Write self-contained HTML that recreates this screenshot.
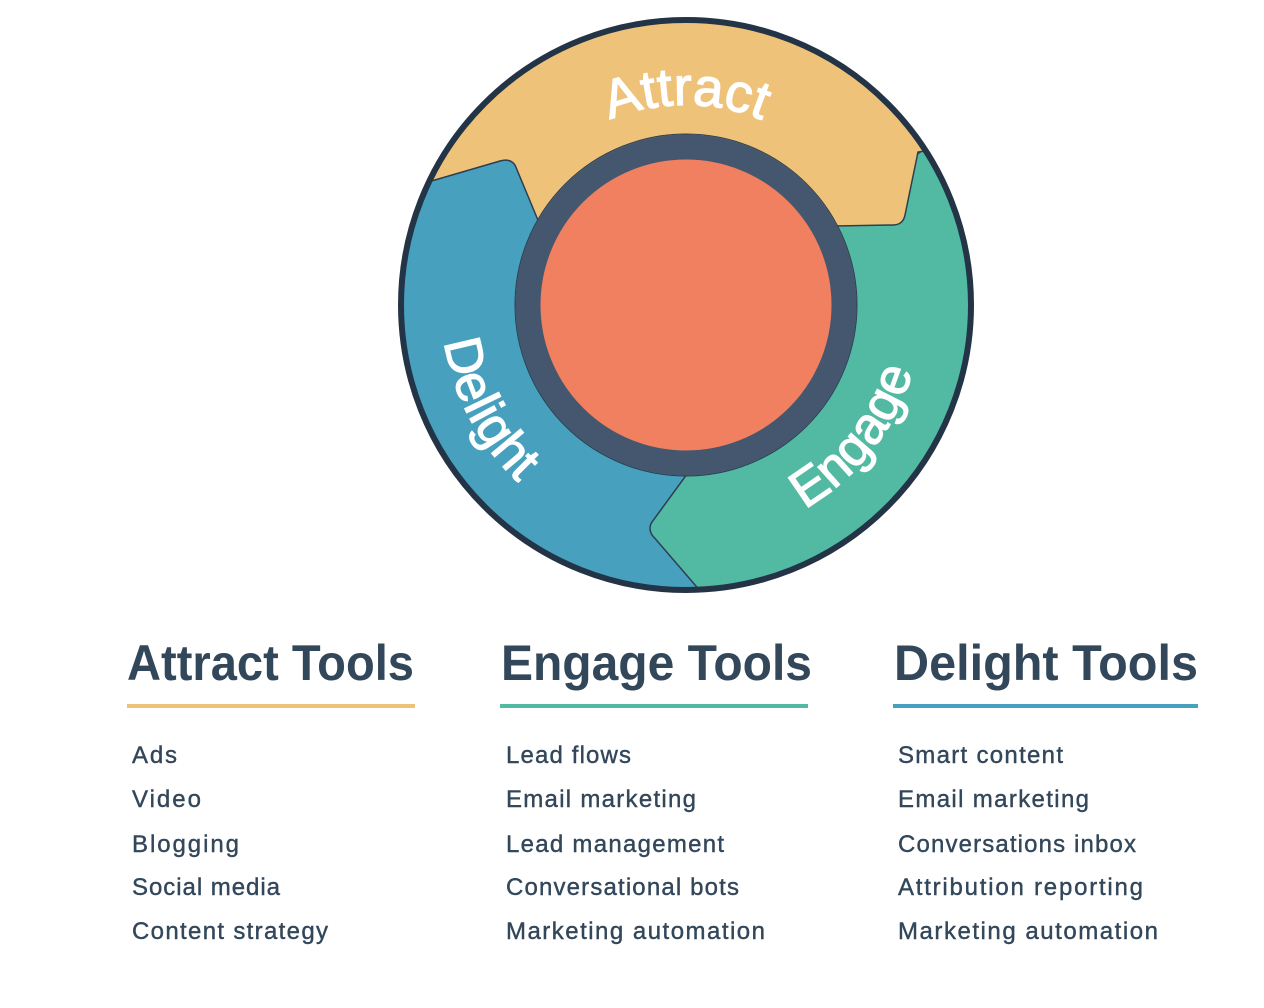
<!DOCTYPE html>
<html><head><meta charset="utf-8"><style>
html,body{margin:0;padding:0;background:#fff;width:1264px;height:1008px;overflow:hidden}
svg{display:block}
text{font-family:"Liberation Sans",sans-serif}
</style></head><body>
<svg width="1264" height="1008" viewBox="0 0 1264 1008" xmlns="http://www.w3.org/2000/svg">
<defs>
<clipPath id="c"><circle cx="686" cy="305" r="284"/></clipPath>
<path id="pa" d="M 486 305 A 200 200 0 0 1 886 305"/>
<path id="pd" d="M 442 290 A 244 244 0 0 0 560 514"/>
<path id="pe" d="M 774 524 A 236 236 0 0 0 920 338"/>
</defs>
<g clip-path="url(#c)">
<rect x="390" y="10" width="600" height="600" fill="#47a1be"/>
<path d="M686 305 L1000 100 L1000 700 L708 600 L652 535 Q648 528 652 522 L690 470 Z" fill="#52b9a3" stroke="#2d3e50" stroke-width="1.5"/>
<path d="M380 0 L1000 0 L1000 140 L918 152 L905 215 Q903 225 893 225 L835 226 L686 305 L540 225 L515 165 Q510 158 500 161 L380 196 Z" fill="#efc27a" stroke="#2d3e50" stroke-width="1.5"/>
</g>
<circle cx="686" cy="305" r="285" fill="none" stroke="#243447" stroke-width="6"/>
<circle cx="686" cy="305" r="158" fill="#f0805f" stroke="#44576f" stroke-width="25"/>
<circle cx="686" cy="305" r="171" fill="none" stroke="#2d3e50" stroke-width="1"/>
<g fill="#fff" stroke="#fff" stroke-width="1.2">
<text font-size="54"><textPath href="#pa" startOffset="50%" text-anchor="middle">Attract</textPath></text>
<text font-size="52"><textPath href="#pd" startOffset="50%" text-anchor="middle">Delight</textPath></text>
<text font-size="52"><textPath href="#pe" startOffset="50%" text-anchor="middle">Engage</textPath></text>
</g>

<g fill="#33475b" font-size="50" font-weight="bold">
<text x="127" y="680" textLength="287" lengthAdjust="spacingAndGlyphs">Attract Tools</text>
<text x="501" y="680" textLength="311" lengthAdjust="spacingAndGlyphs">Engage Tools</text>
<text x="894" y="680" textLength="304" lengthAdjust="spacingAndGlyphs">Delight Tools</text>
</g>
<rect x="127" y="704" width="288" height="4" fill="#efc27a"/>
<rect x="500" y="704" width="308" height="4" fill="#52b9a3"/>
<rect x="893" y="704" width="305" height="4" fill="#47a1be"/>
<g fill="#33475b" stroke="#33475b" stroke-width="0.4" font-size="24">
<text x="132" y="763" textLength="45">Ads</text>
<text x="132" y="807" textLength="69">Video</text>
<text x="132" y="852" textLength="107">Blogging</text>
<text x="132" y="895" textLength="148">Social media</text>
<text x="132" y="939" textLength="196">Content strategy</text>
<text x="506" y="763" textLength="125">Lead flows</text>
<text x="506" y="807" textLength="190">Email marketing</text>
<text x="506" y="852" textLength="218">Lead management</text>
<text x="506" y="895" textLength="233">Conversational bots</text>
<text x="506" y="939" textLength="259">Marketing automation</text>
<text x="898" y="763" textLength="165">Smart content</text>
<text x="898" y="807" textLength="191">Email marketing</text>
<text x="898" y="852" textLength="238">Conversations inbox</text>
<text x="898" y="895" textLength="245">Attribution reporting</text>
<text x="898" y="939" textLength="260">Marketing automation</text>
</g>
</svg>
</body></html>
